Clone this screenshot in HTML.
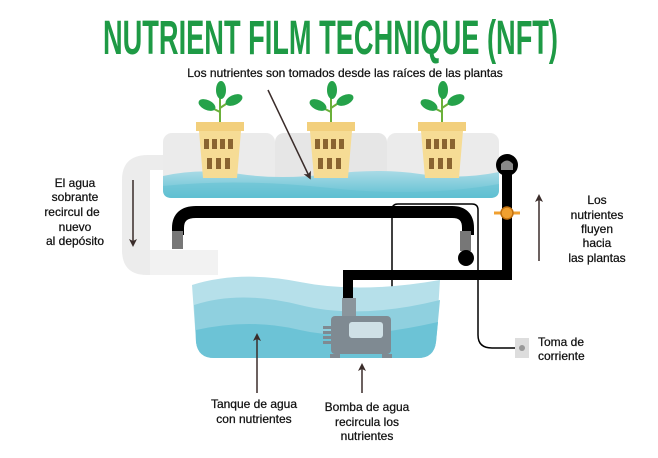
<!DOCTYPE html>
<html><head><meta charset="utf-8"><style>
html,body{margin:0;padding:0;background:#fff;}
svg{display:block;}
text{font-family:"Liberation Sans",sans-serif;fill:#111;}
.l text{stroke:#111;stroke-width:0.25;}
</style></head><body>
<svg width="658" height="458" viewBox="0 0 658 458" xmlns="http://www.w3.org/2000/svg">
<defs>
<marker id="ah" markerWidth="8" markerHeight="8" refX="4" refY="4" orient="auto" markerUnits="userSpaceOnUse">
<path d="M0,0 L8,4 L0,8 L2,4 Z" fill="#3a2c2a"/></marker>
<linearGradient id="wat" x1="0" y1="0" x2="0" y2="1"><stop offset="0" stop-color="#a9dbe6"/><stop offset="1" stop-color="#5fc0d2"/></linearGradient>
</defs>
<text x="103" y="54" font-size="48" font-weight="bold" style="fill:#1e9a45" textLength="455" lengthAdjust="spacingAndGlyphs">NUTRIENT FILM TECHNIQUE (NFT)</text>
<g class="l"><text x="345" y="77" font-size="12" text-anchor="middle">Los nutrientes son tomados desde las raíces de las plantas</text></g>

<path d="M163,155 L148,155 Q122,155 122,180 L122,250 Q122,275 147,275 L218,275 L218,250 L150,250 L150,170 L163,170 Z" fill="#ececec"/>
<rect x="150" y="250" width="68" height="25" fill="#f2f2f2"/>

<rect x="163" y="133" width="112" height="65" rx="9" fill="#ebebeb"/>
<rect x="275" y="133" width="112" height="65" rx="9" fill="#e6e6e6"/>
<rect x="387" y="133" width="112" height="65" rx="9" fill="#ebebeb"/>
<path d="M163,176 Q200,168 240,174 T330,174 T420,174 T499,172 L499,190 Q499,198 490,198 L172,198 Q163,198 163,190 Z" fill="url(#wat)"/>

<g id="p">
<path d="M220,122 L220,83" stroke="#6bb03a" stroke-width="2"/>
<path d="M220,112 L208,106 M220,108 L232,100" stroke="#6bb03a" stroke-width="2"/>
<ellipse cx="221" cy="90" rx="5" ry="9" fill="#25a24a"/>
<ellipse cx="207" cy="105" rx="9" ry="5" transform="rotate(25 207 105)" fill="#25a24a"/>
<ellipse cx="234" cy="100" rx="9" ry="5" transform="rotate(-25 234 100)" fill="#25a24a"/>
<path d="M199,131 L241,131 L237,178 L203,178 Z" fill="#f6dc95"/>
<rect x="196" y="122" width="48" height="9" fill="#f2cf7c"/>
<g fill="#8a6430"><rect x="204" y="139" width="5" height="10"/><rect x="212" y="139" width="5" height="10"/><rect x="220" y="139" width="5" height="10"/><rect x="228" y="139" width="5" height="10"/>
<rect x="207" y="158" width="5" height="11"/><rect x="216" y="158" width="5" height="11"/><rect x="225" y="158" width="5" height="11"/></g>
</g>
<use href="#p" x="111"/>
<use href="#p" x="222"/>
<path d="M163,186 Q240,178 330,188 T499,184 L499,190 Q499,198 490,198 L172,198 Q163,198 163,190 Z" fill="#5fc0d2" opacity="0.5"/>

<path d="M178,235 L178,228 Q178,212 196,212 L452,212 Q468,212 468,228 L468,235" fill="none" stroke="#000" stroke-width="12"/>
<rect x="172" y="231" width="11" height="18" fill="#777"/>
<rect x="460" y="231" width="11" height="20" fill="#777"/>
<circle cx="466" cy="258" r="8" fill="#000"/>

<path d="M392,320 L392,210 Q392,204 398,204 L472,204 Q478,204 478,210 L478,335 Q478,348 492,348 L520,348" fill="none" stroke="#000" stroke-width="1.5"/>
<rect x="515" y="338" width="14" height="20" fill="#ddd"/>
<circle cx="522" cy="348" r="3" fill="#999"/>

<path d="M192,285 Q240,270 300,282 T440,280 L436,342 Q434,358 418,358 L214,358 Q198,358 196,342 Z" fill="#b6e0ea"/>
<path d="M194,305 Q240,290 300,305 T440,300 L436,342 Q434,358 418,358 L214,358 Q198,358 196,342 Z" fill="#8fd0df"/>
<path d="M196,330 Q250,318 300,330 T438,322 L436,342 Q434,358 418,358 L214,358 Q198,358 196,342 Z" fill="#6cc3d6"/>

<path d="M348,300 L348,275 L507,275 L507,165" fill="none" stroke="#000" stroke-width="10"/>
<circle cx="507" cy="165" r="11" fill="#000"/>
<path d="M501,170 L501,164 Q507,157 513,164 L513,170 Z" fill="#888"/>
<line x1="494" y1="213" x2="520" y2="213" stroke="#f0a030" stroke-width="3"/>
<circle cx="507" cy="213" r="6" fill="#f0a030" stroke="#c07010" stroke-width="1.5"/>

<rect x="342" y="298" width="14" height="20" fill="#8a959c"/>
<rect x="331" y="316" width="60" height="38" rx="4" fill="#7f8a92"/>
<rect x="349" y="322" width="34" height="16" rx="3" fill="#cfe0e6"/>
<g fill="#7f8a92"><rect x="323" y="326" width="8" height="3"/><rect x="323" y="331" width="8" height="3"/><rect x="323" y="336" width="8" height="3"/><rect x="323" y="341" width="8" height="3"/></g>
<rect x="330" y="354" width="10" height="4" fill="#7f8a92"/><rect x="382" y="354" width="10" height="4" fill="#7f8a92"/>

<g stroke="#3a2c2a" stroke-width="1.5" fill="none">
<line x1="268" y1="90" x2="309" y2="176" marker-end="url(#ah)"/>
<line x1="133" y1="180" x2="133" y2="243" marker-end="url(#ah)"/>
<line x1="539" y1="261" x2="539" y2="198" marker-end="url(#ah)"/>
<line x1="257" y1="393" x2="257" y2="337" marker-end="url(#ah)"/>
<line x1="362" y1="393" x2="362" y2="367" marker-end="url(#ah)"/>
</g>

<g class="l" font-size="12" text-anchor="middle">
<text x="75" y="187">El agua</text><text x="75" y="201">sobrante</text><text x="72" y="216">recircul de</text><text x="75" y="231">nuevo</text><text x="75" y="245">al depósito</text>
<text x="597" y="204">Los</text><text x="597" y="219">nutrientes</text><text x="597" y="233">fluyen</text><text x="597" y="247">hacia</text><text x="597" y="262">las plantas</text>
<text x="254" y="408">Tanque de agua</text><text x="254" y="423">con nutrientes</text>
<text x="367" y="411">Bomba de agua</text><text x="367" y="426">recircula los</text><text x="367" y="440">nutrientes</text>
</g>
<g class="l">
<text x="538" y="346" font-size="12">Toma de</text>
<text x="538" y="360" font-size="12">corriente</text>
</g>
</svg>
</body></html>
